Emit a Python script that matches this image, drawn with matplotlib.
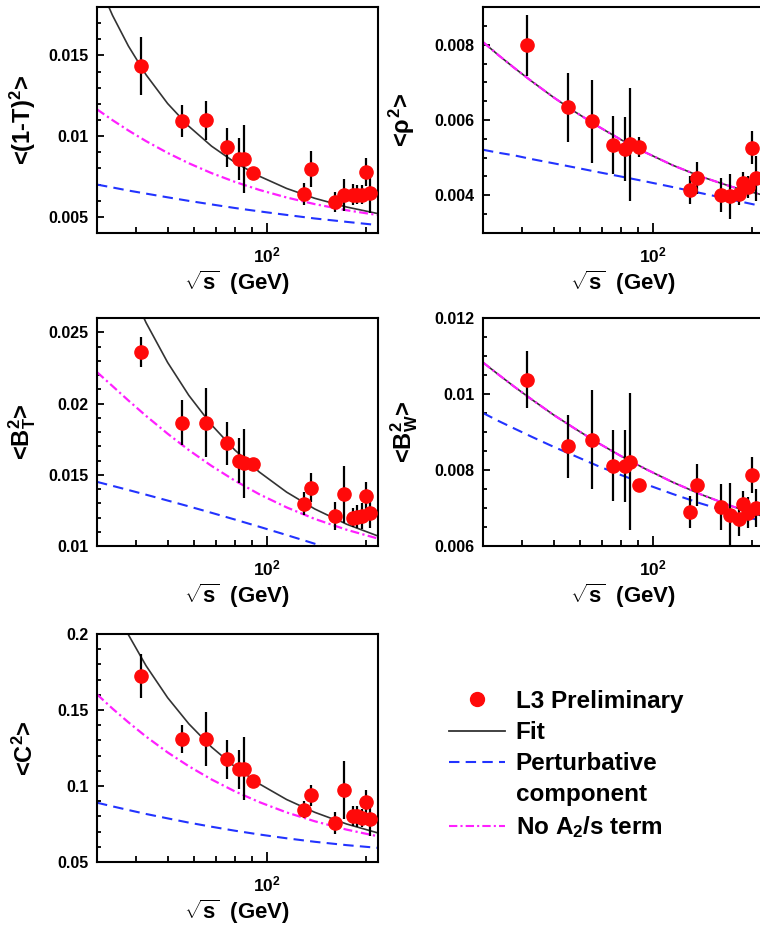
import numpy as np
import matplotlib.pyplot as plt
from matplotlib.ticker import FixedLocator, MultipleLocator, FuncFormatter, NullFormatter
from matplotlib.lines import Line2D

plt.rcParams['font.family'] = ['Liberation Sans', 'DejaVu Sans']
plt.rcParams['font.weight'] = 'bold'
plt.rcParams['axes.labelweight'] = 'bold'
plt.rcParams['mathtext.fontset'] = 'custom'
plt.rcParams['mathtext.rm'] = 'Liberation Sans:bold'
plt.rcParams['mathtext.it'] = 'Liberation Sans:bold'
plt.rcParams['mathtext.bf'] = 'Liberation Sans:bold'
plt.rcParams['mathtext.sf'] = 'Liberation Sans:bold'

# energies (GeV)
sqrt_s = [41.4, 55.3, 65.4, 75.7, 82.3, 85.1, 91.2, 130.1, 136.1,
          161.3, 172.3, 182.8, 188.6, 194.4, 200.2, 206.2]

# <(1-T)^2>
thr_y = [0.01436, 0.01093, 0.01098, 0.00930, 0.00860, 0.00860, 0.00774, 0.00641, 0.00798,
         0.00592, 0.00637, 0.00638, 0.00637, 0.00637, 0.00777, 0.00647]
thr_err = [0.0018, 0.0010, 0.0012, 0.0012, 0.0013, 0.0021, 0.0, 0.00068, 0.0011,
           0.0006, 0.0010, 0.00065, 0.0006, 0.0006, 0.00085, 0.00125]

# <rho^2>
rho_y = [0.00798, 0.00634, 0.00597, 0.00534, 0.00523, 0.00536, 0.00529, 0.00415, 0.00446,
         0.00400, 0.00397, 0.00404, 0.00432, 0.00422, 0.00526, 0.00445]
rho_err = [0.0008, 0.00092, 0.0011, 0.00077, 0.00085, 0.0015, 0.00026, 0.00037, 0.00042,
           0.00045, 0.0006, 0.0003, 0.0003, 0.0003, 0.00044, 0.0006]

# <B_T^2>
bt_y = [0.02361, 0.01866, 0.01866, 0.01721, 0.01599, 0.01580, 0.01576, 0.01297, 0.01410,
        0.01210, 0.01362, 0.01200, 0.01205, 0.01210, 0.01352, 0.01235]
bt_err = [0.00106, 0.00156, 0.0024, 0.0015, 0.0016, 0.0024, 0.0, 0.0008, 0.0010,
          0.0010, 0.0020, 0.0007, 0.0008, 0.0009, 0.0010, 0.0011]

# <B_W^2>
bw_y = [0.01037, 0.00863, 0.00880, 0.00811, 0.00810, 0.00822, 0.00760, 0.00689, 0.00761,
        0.00702, 0.00681, 0.00671, 0.00711, 0.00688, 0.00787, 0.00701]
bw_err = [0.00075, 0.00083, 0.0013, 0.00093, 0.00094, 0.0018, 0.0, 0.00042, 0.00056,
          0.0006, 0.00084, 0.00044, 0.00035, 0.0004, 0.00047, 0.0005]

# <C^2>
c_y = [0.1726, 0.1309, 0.1309, 0.1176, 0.1110, 0.1114, 0.1033, 0.0845, 0.0939,
       0.0757, 0.0976, 0.0803, 0.0800, 0.0790, 0.0896, 0.0785]
c_err = [0.0145, 0.009, 0.0175, 0.0128, 0.013, 0.0208, 0.0, 0.0055, 0.007,
         0.007, 0.019, 0.0065, 0.007, 0.006, 0.008, 0.0115]

# curves: fit, perturbative part, fit without A2/s
curve_x = [30.5, 34, 38, 43, 50, 58, 68, 80, 95, 115, 140, 175, 218]

thr_fit = [0.01967, 0.01748, 0.01558, 0.01380, 0.01202, 0.01061, 0.00938, 0.00838,
           0.00752, 0.00676, 0.00615, 0.00561, 0.00520]
thr_pert = [0.00700, 0.00682, 0.00663, 0.00644, 0.00621, 0.00599, 0.00577, 0.00555,
            0.00534, 0.00512, 0.00490, 0.00469, 0.00449]
thr_noa2 = [0.01166, 0.01099, 0.01035, 0.00969, 0.00896, 0.00832, 0.00771, 0.00717,
            0.00667, 0.00620, 0.00579, 0.00541, 0.00511]

rho_fit = [0.00807, 0.00772, 0.00738, 0.00702, 0.00660, 0.00622, 0.00584, 0.00548,
           0.00514, 0.00480, 0.00450, 0.00422, 0.00400]
rho_pert = [0.00521, 0.00513, 0.00506, 0.00496, 0.00485, 0.00474, 0.00462, 0.00450,
            0.00437, 0.00422, 0.00406, 0.00388, 0.00370]
rho_noa2 = [0.00807, 0.00772, 0.00738, 0.00702, 0.00660, 0.00622, 0.00584, 0.00548,
            0.00514, 0.00480, 0.00450, 0.00422, 0.00400]

bt_fit = [0.03426, 0.03115, 0.02836, 0.02567, 0.02288, 0.02057, 0.01850, 0.01674,
          0.01519, 0.01378, 0.01260, 0.01153, 0.01070]
bt_pert = [0.01450, 0.01422, 0.01393, 0.01360, 0.01319, 0.01278, 0.01233, 0.01186,
           0.01135, 0.01077, 0.01016, 0.00944, 0.00871]
bt_noa2 = [0.02220, 0.02122, 0.02021, 0.01913, 0.01788, 0.01673, 0.01562, 0.01459,
           0.01363, 0.01271, 0.01190, 0.01114, 0.01052]

bw_fit = [0.01083, 0.01051, 0.01019, 0.00985, 0.00945, 0.00909, 0.00872, 0.00837,
          0.00803, 0.00768, 0.00736, 0.00704, 0.00677]
bw_pert = [0.00950, 0.00929, 0.00909, 0.00887, 0.00861, 0.00837, 0.00811, 0.00787,
           0.00763, 0.00737, 0.00712, 0.00687, 0.00664]
bw_noa2 = [0.01083, 0.01051, 0.01019, 0.00985, 0.00945, 0.00909, 0.00872, 0.00837,
           0.00803, 0.00768, 0.00736, 0.00704, 0.00677]

c_fit = [0.2449, 0.2208, 0.1995, 0.1791, 0.1581, 0.1409, 0.1256, 0.1127,
         0.1014, 0.0911, 0.0827, 0.0750, 0.0691]
c_pert = [0.0890, 0.0866, 0.0842, 0.0816, 0.0787, 0.0759, 0.0732, 0.0706,
          0.0681, 0.0656, 0.0633, 0.0611, 0.0593]
c_noa2 = [0.1603, 0.1509, 0.1419, 0.1325, 0.1221, 0.1130, 0.1043, 0.0965,
          0.0894, 0.0826, 0.0768, 0.0713, 0.0669]

RED = '#ff0a0a'
BLUE = '#2233ff'
MAG = '#ff20ff'
DARK = '#333333'
DASH = (0, (5, 3))
DASHDOT = (0, (4, 1.5, 1, 1.5))

W, H = 760, 926
fig = plt.figure(figsize=(W / 100, H / 100), dpi=100)


def add_ax(left, top, right, bottom):
    return fig.add_axes([left / W, 1 - bottom / H, (right - left) / W, (bottom - top) / H])


def panel(ax, y, err, fit, pert, noa2, ylim, major, minor, ylabel, lab_x):
    ax.set_xscale('log')
    ax.plot(curve_x, fit, color=DARK, lw=1.2, zorder=2)
    ax.plot(curve_x, pert, color=BLUE, lw=1.5, ls=DASH, zorder=2)
    ax.plot(curve_x, noa2, color=MAG, lw=1.6, ls=DASHDOT, zorder=2.1)
    ax.errorbar(sqrt_s, y, yerr=err, fmt='none', ecolor='black', elinewidth=1.6, capsize=0, zorder=3)
    ax.plot(sqrt_s, y, 'o', color=RED, ms=9.5, mec=RED, zorder=4)
    ax.set_xlim(30.5, 218)
    ax.set_ylim(*ylim)
    ax.xaxis.set_major_locator(FixedLocator([100]))
    ax.xaxis.set_major_formatter(FuncFormatter(lambda v, p: r'$10^{2}$'))
    ax.xaxis.set_minor_locator(FixedLocator([40, 50, 60, 70, 80, 90, 200]))
    ax.xaxis.set_minor_formatter(NullFormatter())
    ax.yaxis.set_major_locator(MultipleLocator(major))
    ax.yaxis.set_minor_locator(MultipleLocator(minor))
    ax.yaxis.set_major_formatter(FuncFormatter(lambda v, p: '%g' % round(v, 6)))
    ax.tick_params(which='both', direction='in', top=False, right=False, width=1.3)
    ax.tick_params(axis='y', which='major', length=5, pad=6, labelsize=11.5)
    ax.tick_params(axis='y', which='minor', length=3)
    ax.tick_params(axis='x', which='major', length=7, pad=9, labelsize=12.5)
    ax.tick_params(axis='x', which='minor', length=4)
    for s in ax.spines.values():
        s.set_linewidth(1.5)
    ax.set_xlabel(r'$\sqrt{s}$  (GeV)', fontsize=16, fontweight='bold', labelpad=2)
    ax.set_ylabel(ylabel, fontsize=17, fontweight='bold')
    ax.yaxis.set_label_coords(lab_x, 0.5)


ax1 = add_ax(97, 7, 378, 233)
panel(ax1, thr_y, thr_err, thr_fit, thr_pert, thr_noa2, (0.004, 0.018), 0.005, 0.001,
      r'<(1-T)$^2$>', -0.21)

ax2 = add_ax(483, 7, 764, 233)
panel(ax2, rho_y, rho_err, rho_fit, rho_pert, rho_noa2, (0.003, 0.009), 0.002, 0.0005,
      r'<$\rho^2$>', -0.235)

ax3 = add_ax(97, 318, 378, 546)
panel(ax3, bt_y, bt_err, bt_fit, bt_pert, bt_noa2, (0.01, 0.026), 0.005, 0.001,
      r'<B$_T^2$>', -0.21)

ax4 = add_ax(483, 318, 764, 546)
panel(ax4, bw_y, bw_err, bw_fit, bw_pert, bw_noa2, (0.006, 0.012), 0.002, 0.0005,
      r'<B$_W^2$>', -0.225)

ax5 = add_ax(97, 634, 378, 862)
panel(ax5, c_y, c_err, c_fit, c_pert, c_noa2, (0.05, 0.2), 0.05, 0.01,
      r'<C$^2$>', -0.21)

handles = [Line2D([], [], ls='none', marker='o', color=RED, ms=10),
           Line2D([], [], color=DARK, lw=1.3),
           Line2D([], [], color=BLUE, lw=1.5, ls=DASH),
           Line2D([], [], ls='none'),
           Line2D([], [], color=MAG, lw=1.5, ls=DASHDOT)]
labels = ['L3 Preliminary', 'Fit', 'Perturbative', 'component', r'No A$_2$/s term']
fig.legend(handles, labels, loc='upper left', bbox_to_anchor=(449 / W, 1 - 690 / H),
           frameon=False, fontsize=17.5, handlelength=2.3, handletextpad=0.45,
           labelspacing=0.33, borderpad=0, borderaxespad=0)

fig.savefig('out.png', dpi=100)
